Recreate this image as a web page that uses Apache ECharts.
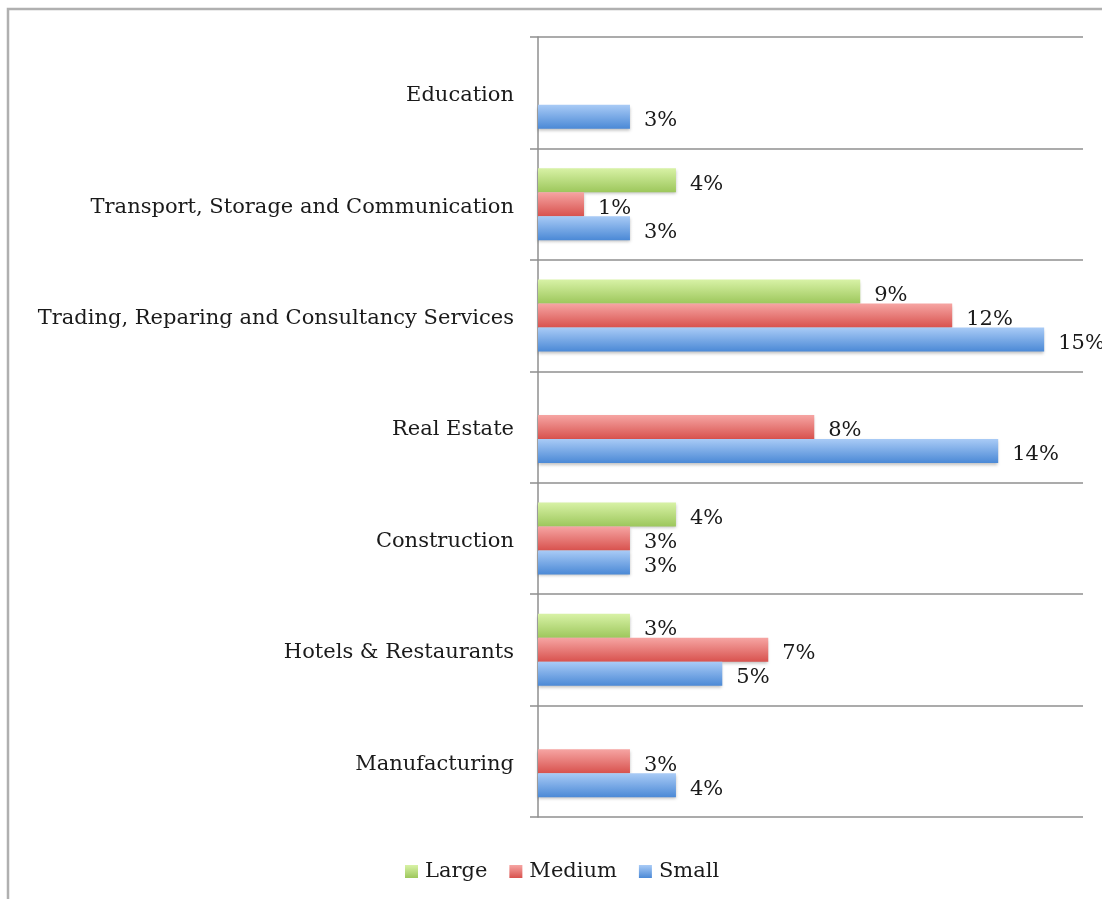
<!DOCTYPE html>
<html>
<head>
<meta charset="utf-8">
<title>Companies by sector and size</title>
<script src="https://cdn.jsdelivr.net/npm/echarts@6/dist/echarts.min.js"></script>
<style>
  html, body { margin: 0; padding: 0; background: #fff; }
  #chart { width: 1102px; height: 899px; }
</style>
</head>
<body>
<div id="chart"></div>
<script>
// Sectors, bottom to top as they appear on the category axis
const sectors = [
  'Manufacturing',
  'Hotels & Restaurants',
  'Construction',
  'Real Estate',
  'Trading, Reparing and Consultancy Services',
  'Transport, Storage and Communication',
  'Education'
];

// Share of companies (%) per sector; null = no companies of that size
const large  = [null, 2.70, 4.05, null, 9.46, 4.05, null];
const medium = [2.70, 6.76, 2.70, 8.11, 12.16, 1.35, null];
const small  = [4.05, 5.41, 2.70, 13.51, 14.86, 2.70, 2.70];

const seriesNames = ['Large', 'Medium', 'Small'];

const FONT = 'DejaVu Serif';

function grad(top, bottom) {
  return new echarts.graphic.LinearGradient(0, 0, 0, 1, [
    { offset: 0, color: top },
    { offset: 1, color: bottom }
  ]);
}

const colors = {
  Large:  grad('#d8f2a6', '#9dc75c'),
  Medium: grad('#f6a5a3', '#d8524e'),
  Small:  grad('#a9cbf6', '#4b89d6')
};

function makeSeries(name, values) {
  return {
    name: name,
    type: 'bar',
    data: values,
    barWidth: 24,
    barGap: '0%',
    itemStyle: {
      color: colors[name],
      shadowColor: 'rgba(0,0,0,0.25)',
      shadowBlur: 3,
      shadowOffsetY: 2
    },
    label: {
      show: true,
      position: 'right',
      distance: 14,
      offset: [0, 4],
      fontFamily: FONT,
      fontSize: 21,
      color: '#1a1a1a',
      formatter: p => Math.round(p.value) + '%'
    }
  };
}

const chart = echarts.init(document.getElementById('chart'), null, { renderer: 'canvas' });

chart.setOption({
  animation: false,
  backgroundColor: '#fff',
  grid: { left: 538, right: 19, top: 37, bottom: 82, containLabel: false },
  xAxis: {
    type: 'value',
    min: 0,
    max: 16,
    show: false
  },
  yAxis: {
    type: 'category',
    data: sectors,
    axisLine: { show: true, lineStyle: { color: '#8f8f8f', width: 1.5 } },
    axisTick: { show: true, length: 8, lineStyle: { color: '#8f8f8f', width: 1.5 } },
    splitLine: { show: true, lineStyle: { color: '#8f8f8f', width: 1.5 } },
    axisLabel: {
      margin: 24,
      fontFamily: FONT,
      fontSize: 21,
      color: '#1a1a1a',
      // a short line box hung from the band centre drops the text a few pixels
      verticalAlign: 'top',
      lineHeight: 6
    }
  },
  legend: {
    data: seriesNames,
    bottom: 12,
    left: 400,
    itemWidth: 13,
    itemHeight: 13,
    itemGap: 22,
    icon: 'rect',
    textStyle: { fontFamily: FONT, fontSize: 21, color: '#1a1a1a', padding: [0, 0, 0, 2] }
  },
  graphic: [{
    type: 'polyline',
    shape: { points: [[8, 899], [8, 9], [1102, 9]] },
    style: { stroke: '#b0b0b0', lineWidth: 2.5, fill: null },
    silent: true
  }],
  // first series sits at the top of each category band
  series: [
    makeSeries('Large', large),
    makeSeries('Medium', medium),
    makeSeries('Small', small)
  ]
});
</script>
</body>
</html>
